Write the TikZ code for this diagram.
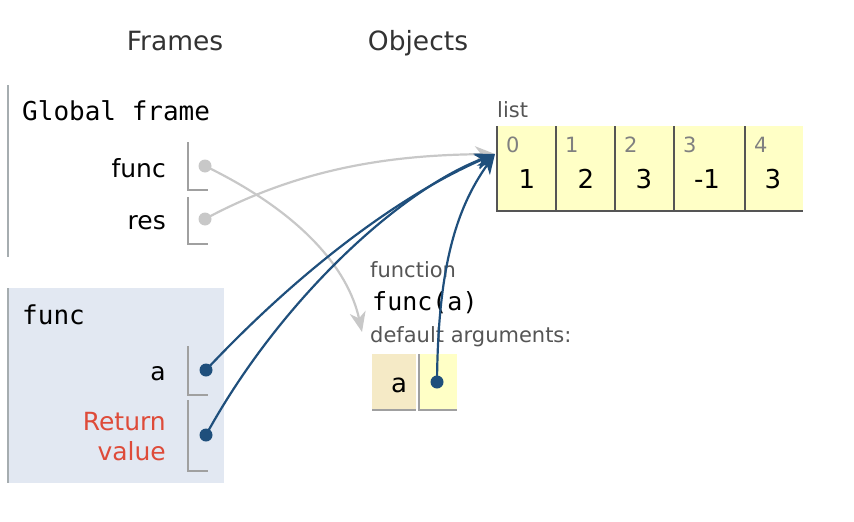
\documentclass[tikz,border=0pt]{standalone}
\usepackage{fontspec}
\setmainfont{DejaVu Sans}
\setmonofont{DejaVu Sans Mono}
\usetikzlibrary{arrows.meta}

\definecolor{refblue}{HTML}{1F4F7C}
\definecolor{refgray}{HTML}{C8C8C8}
\definecolor{framebg}{HTML}{E2E8F2}
\definecolor{frameline}{HTML}{A6ADB0}
\definecolor{boxline}{HTML}{A0A0A0}
\definecolor{listfill}{HTML}{FFFFC6}
\definecolor{listline}{HTML}{555555}
\definecolor{keyfill}{HTML}{F5EAC6}
\definecolor{retred}{HTML}{DE4B39}
\definecolor{headgray}{HTML}{333333}
\definecolor{typegray}{HTML}{555555}
\definecolor{idxgray}{HTML}{808080}

\tikzset{
  big/.style={font=\fontsize{25}{30}\selectfont, inner sep=0pt},
  bigmono/.style={font=\fontsize{26}{30}\selectfont\ttfamily, inner sep=0pt},
  small/.style={font=\fontsize{21}{24}\selectfont, inner sep=0pt},
  header/.style={font=\fontsize{26.5}{30}\selectfont, inner sep=0pt, text=headgray, anchor=base},
  varname/.style={big, anchor=base east},
  varbox/.style={draw=boxline, line width=1.6pt},
  refdot/.style={circle, fill=refblue, inner sep=0pt, minimum size=13pt},
  nulldot/.style={circle, fill=refgray, inner sep=0pt, minimum size=13pt},
  pointer tip/.style={-{Stealth[length=20pt,width=16pt,inset=6pt]}},
  ref/.style={draw=refblue, line width=2.2pt, pointer tip},
  fref/.style={draw=refgray, line width=2.2pt, pointer tip},
  idx/.style={small, text=idxgray, anchor=base west},
  val/.style={font=\fontsize{26}{30}\selectfont, inner sep=0pt, anchor=base},
}

\begin{document}
\begin{tikzpicture}[x=1pt,y=-1pt]
\useasboundingbox (0,0) rectangle (854,522);

% column headers
\node[header] (hframes) at (175,50) {Frames};
\node[header] (hobjects) at (418,50) {Objects};

% ---------- global frame ----------
\draw[frameline, line width=2pt] (8,85) -- (8,257);
\node[bigmono, anchor=base west] (gtitle) at (22,120) {Global frame};

\node[varname] (gfuncname) at (166,177) {func};
\draw[varbox] (188,142) -- (188,190) -- (208,190);
\node[nulldot] (gfunc) at (205,166) {};

\node[varname] (gresname) at (166,229) {res};
\draw[varbox] (188,197) -- (188,244) -- (208,244);
\node[nulldot] (gres) at (205,219) {};

% ---------- func frame ----------
\fill[framebg] (8,288) rectangle (224,483);
\draw[frameline, line width=2pt] (8,288) -- (8,483);
\node[bigmono, anchor=base west] (ftitle) at (22,324) {func};

\node[varname] (faname) at (166,380) {a};
\draw[varbox] (188,346) -- (188,395) -- (208,395);
\node[refdot] (fa) at (206,370) {};

\node[varname, text=retred] (fret1) at (166,430) {Return};
\node[varname, text=retred] (fret2) at (166,460) {value};
\draw[varbox] (188,400) -- (188,471) -- (208,471);
\node[refdot] (fret) at (206,435) {};

% ---------- list object ----------
\node[small, text=typegray, anchor=base west] (listlbl) at (497,117) {list};
\fill[listfill] (497,126) rectangle (803,211);
\draw[listline, line width=2pt] (497,126) -- (497,211) -- (803,211);
\foreach \xx in {556,615,674,745} {
  \draw[listline, line width=2pt] (\xx,126) -- (\xx,211);
}
\node[idx] (i0) at (506,152) {0};
\node[idx] (i1) at (565,152) {1};
\node[idx] (i2) at (624,152) {2};
\node[idx] (i3) at (683,152) {3};
\node[idx] (i4) at (754,152) {4};
\node[val] (v0) at (527,188) {1};
\node[val] (v1) at (586,188) {2};
\node[val] (v2) at (644,188) {3};
\node[val] (v3) at (707,188) {-1};
\node[val] (v4) at (773,188) {3};
\coordinate (listin) at (495,154);

% ---------- function object ----------
\node[small, text=typegray, anchor=base west] (fnlbl) at (370,277) {function};
\node[bigmono, anchor=base west, font=\fontsize{25}{30}\selectfont\ttfamily] (fnsig) at (372,310) {func(a)};
\node[small, text=typegray, anchor=base west] (fndef) at (370,342) {default arguments:};
\fill[keyfill] (372,354) rectangle (416,410);
\draw[boxline, line width=2pt] (372,410) -- (416,410);
\fill[listfill] (419,354) rectangle (457,410);
\draw[boxline, line width=2pt] (419,354) -- (419,410) -- (457,410);
\node[val] (fnkey) at (399,392) {a};
\node[refdot] (fndefa) at (437,382) {};
\coordinate (fnin) at (362,332);

% ---------- references ----------
\draw[fref] (gfunc.center) .. controls (300,212) and (348,268) .. (fnin);
\draw[fref] (gres.center) .. controls (305,165) and (400,155) .. (listin);
\draw[ref] (fa.center) .. controls (300,270) and (400,195) .. (listin);
\draw[ref] (fret.center) .. controls (280,300) and (400,190) .. (listin);
\draw[ref] (fndefa.center) .. controls (438,270) and (455,210) .. (listin);
\end{tikzpicture}
\end{document}
